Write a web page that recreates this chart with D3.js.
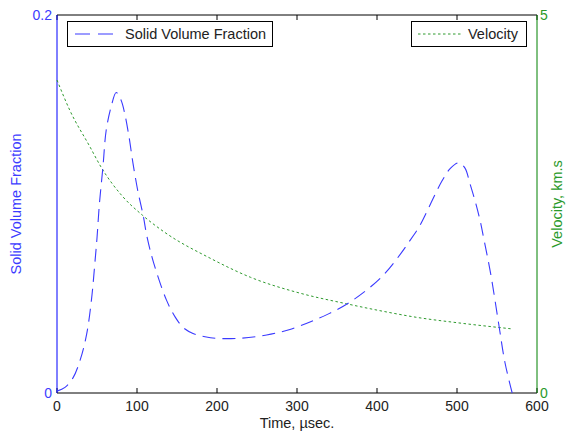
<!DOCTYPE html>
<html>
<head>
<meta charset="utf-8">
<script src="https://cdn.jsdelivr.net/npm/d3@7"></script>
<style>
  body { margin: 0; background: #fff; }
  text { font-family: "Liberation Sans", Arial, sans-serif; }
</style>
</head>
<body>
<div id="chart"></div>
<script>
// Data
var svfTime = [0, 10, 20, 29, 37, 43, 48, 50, 53, 57.5, 61.5, 68, 74, 80, 84.6, 90, 95, 101, 108, 112.5, 121, 137, 148, 158, 170, 185, 200, 230, 262, 290, 317, 340, 367, 408, 446, 454, 481, 492, 502, 510, 516, 523, 529, 533, 542, 552, 560, 569];
var svfValue = [0.001, 0.003, 0.008, 0.0175, 0.031, 0.049, 0.072, 0.082, 0.100, 0.120, 0.139, 0.152, 0.159, 0.155, 0.148, 0.1356, 0.1215, 0.107, 0.0933, 0.0827, 0.0686, 0.049, 0.040, 0.0345, 0.0315, 0.0298, 0.0289, 0.029, 0.0307, 0.0335, 0.0377, 0.042, 0.0483, 0.0624, 0.0836, 0.0889, 0.112, 0.119, 0.1218, 0.119, 0.111, 0.101, 0.091, 0.0827, 0.0633, 0.0369, 0.016, 0.0];

var velTime = [0, 16, 41, 55, 82, 107, 134, 192, 242, 304, 362, 408, 450, 500, 567];
var velValue = [4.14, 3.74, 3.26, 2.99, 2.60, 2.35, 2.13, 1.78, 1.53, 1.32, 1.18, 1.08, 1.00, 0.93, 0.85];

var xTicks = [0, 100, 200, 300, 400, 500, 600];
var leftTicks = [0, 0.2];
var rightTicks = [0, 5];

var width = 566, height = 435;
var margin = { top: 15, right: 29, bottom: 42, left: 57 };
var blue = "#0000ff", lineBlue = "#3a3aff", textBlue = "#3c3cff";
var green = "#008000", lineGreen = "#2e9a2e", textGreen = "#2a9a2a";

var svg = d3.select("#chart").append("svg")
    .attr("width", width)
    .attr("height", height);

var x = d3.scaleLinear().domain([0, 600]).range([margin.left, width - margin.right]);
var yLeft = d3.scaleLinear().domain([0, 0.2]).range([height - margin.bottom, margin.top]);
var yRight = d3.scaleLinear().domain([0, 5]).range([height - margin.bottom, margin.top]);

var x0 = x(0), x1 = x(600), yb = yLeft(0), yt = yLeft(0.2);

// top and bottom frame lines with ticks
svg.append("line").attr("x1", x0).attr("x2", x1).attr("y1", yb).attr("y2", yb).attr("stroke", "#000");
svg.append("line").attr("x1", x0).attr("x2", x1).attr("y1", yt).attr("y2", yt).attr("stroke", "#000");

xTicks.forEach(function(t) {
    svg.append("line").attr("x1", x(t)).attr("x2", x(t)).attr("y1", yb).attr("y2", yb - 5).attr("stroke", "#000");
    svg.append("line").attr("x1", x(t)).attr("x2", x(t)).attr("y1", yt).attr("y2", yt + 5).attr("stroke", "#000");
    svg.append("text").attr("x", x(t)).attr("y", yb + 18)
        .attr("text-anchor", "middle").attr("font-size", 14).attr("fill", "#222").text(t);
});

// left axis (blue) and right axis (green)
svg.append("line").attr("x1", x0).attr("x2", x0).attr("y1", yb).attr("y2", yt).attr("stroke", blue);
svg.append("line").attr("x1", x1).attr("x2", x1).attr("y1", yb).attr("y2", yt).attr("stroke", green);

leftTicks.forEach(function(t) {
    svg.append("text").attr("x", x0 - 5).attr("y", yLeft(t) + 5)
        .attr("text-anchor", "end").attr("font-size", 14).attr("fill", textBlue).text(t);
});
rightTicks.forEach(function(t) {
    svg.append("text").attr("x", x1 + 3).attr("y", yRight(t) + 5)
        .attr("text-anchor", "start").attr("font-size", 14).attr("fill", textGreen).text(t);
});

// axis labels
svg.append("text").attr("x", (x0 + x1) / 2).attr("y", 428)
    .attr("text-anchor", "middle").attr("font-size", 14.5).attr("fill", "#222").text("Time, µsec.");
svg.append("text").attr("transform", "translate(21," + ((yb + yt) / 2) + ") rotate(-90)")
    .attr("text-anchor", "middle").attr("font-size", 14.5).attr("fill", textBlue).text("Solid Volume Fraction");
svg.append("text").attr("transform", "translate(562," + ((yb + yt) / 2) + ") rotate(-90)")
    .attr("text-anchor", "middle").attr("font-size", 14.5).attr("fill", textGreen).text("Velocity, km.s");

// lines
var svfData = svfTime.map(function(t, i) { return [t, svfValue[i]]; });
var velData = velTime.map(function(t, i) { return [t, velValue[i]]; });

var svfLine = d3.line().x(d => x(d[0])).y(d => yLeft(d[1])).curve(d3.curveCatmullRom);
var velLine = d3.line().x(d => x(d[0])).y(d => yRight(d[1])).curve(d3.curveMonotoneX);

svg.append("path").datum(velData).attr("d", velLine)
    .attr("fill", "none").attr("stroke", lineGreen).attr("stroke-width", 1)
    .attr("stroke-dasharray", "2.5,2.5");

svg.append("path").datum(svfData).attr("d", svfLine)
    .attr("fill", "none").attr("stroke", lineBlue).attr("stroke-width", 1.1)
    .attr("stroke-dasharray", "13,7");

// legends
var lg1 = svg.append("g");
lg1.append("rect").attr("x", 67.5).attr("y", 21.5).attr("width", 205).attr("height", 25)
    .attr("fill", "#fff").attr("stroke", "#000");
lg1.append("line").attr("x1", 75).attr("x2", 113).attr("y1", 34).attr("y2", 34)
    .attr("stroke", lineBlue).attr("stroke-width", 1.1).attr("stroke-dasharray", "15,8");
lg1.append("text").attr("x", 125).attr("y", 39).attr("font-size", 14.5).attr("fill", "#222")
    .text("Solid Volume Fraction");

var lg2 = svg.append("g");
lg2.append("rect").attr("x", 411.5).attr("y", 21.5).attr("width", 115).attr("height", 25)
    .attr("fill", "#fff").attr("stroke", "#000");
lg2.append("line").attr("x1", 418).attr("x2", 463).attr("y1", 34).attr("y2", 34)
    .attr("stroke", lineGreen).attr("stroke-dasharray", "2.5,2.5");
lg2.append("text").attr("x", 468).attr("y", 39).attr("font-size", 14.5).attr("fill", "#222")
    .text("Velocity");
</script>
</body>
</html>
